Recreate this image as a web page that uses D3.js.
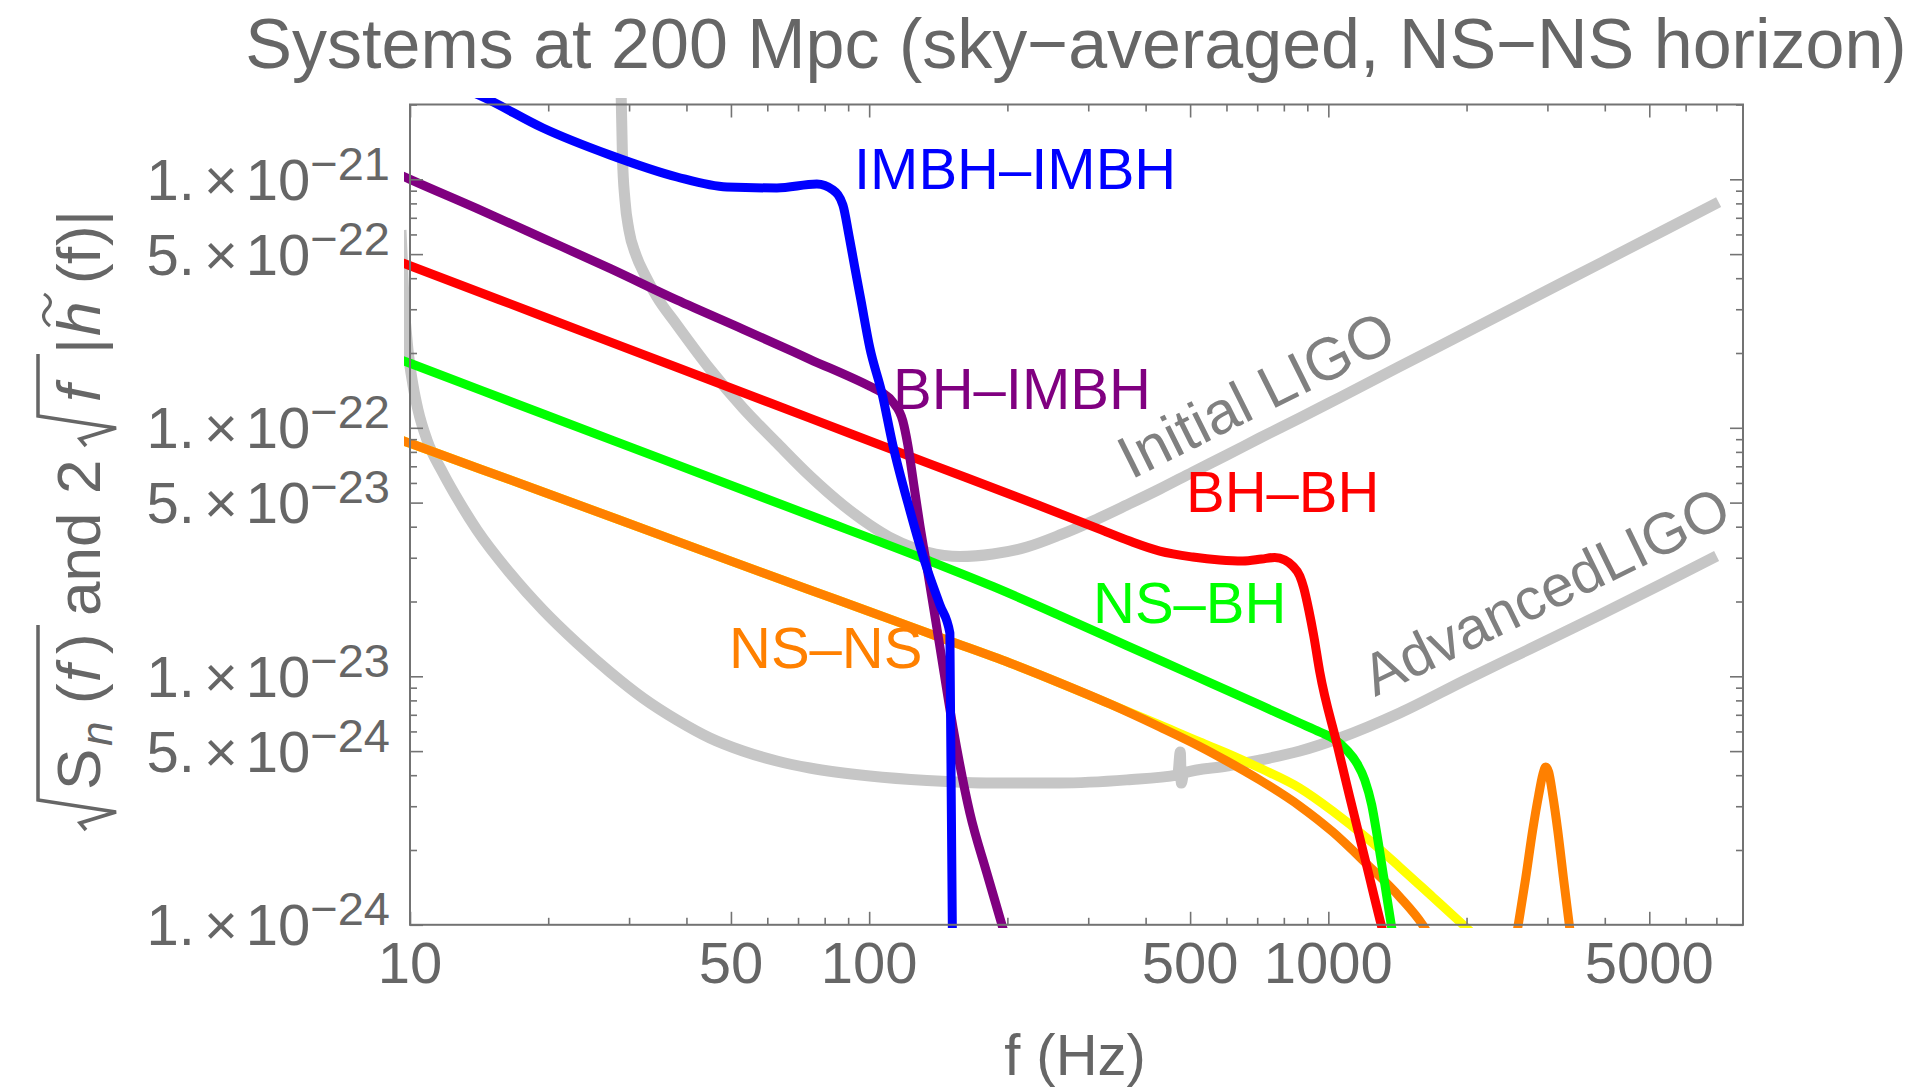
<!DOCTYPE html>
<html>
<head>
<meta charset="utf-8">
<script src="https://cdn.jsdelivr.net/npm/d3@7"></script>
<style>
  html, body { margin: 0; padding: 0; background: #ffffff; }
  svg { display: block; }
  text { font-family: "Liberation Sans", Arial, Helvetica, sans-serif; }
</style>
</head>
<body>
<svg id="chart" width="1915" height="1087"></svg>
<script>
// ---------- data: [frequency (Hz), amplitude] ----------
const initialLIGO = [
  [28.73, 2.51e-21], [28.84, 2.125e-21], [29.02, 1.229e-21], [29.39, 8.25e-22], [29.98, 6.25e-22],
  [31.05, 4.96e-22], [32.48, 4.12e-22], [34.50, 3.36e-22], [38.14, 2.593e-22], [45.0, 1.724e-22],
  [53.1, 1.2015e-22], [62.95, 8.69e-23], [74.3, 6.396e-23], [87.65, 4.890e-23], [100.35, 4.063e-23],
  [112.6, 3.569e-23], [133.6, 3.164e-23], [157.6, 3.034e-23], [185.9, 3.106e-23], [220.5, 3.314e-23],
  [260.2, 3.704e-23], [306.9, 4.217e-23], [364.0, 4.890e-23], [429.5, 5.671e-23], [506.8, 6.637e-23],
  [601.0, 7.772e-23], [709.0, 9.099e-23], [866.6, 1.095e-22], [1058.8, 1.324e-22], [1687.6, 2.065e-22],
  [3303.6, 3.915e-22], [5454, 6.31e-22], [7079, 8.10e-22]
];

const advancedLIGO = [
  [9.559, 6.25e-22], [9.704, 3.27e-22], [9.900, 2.056e-22], [10.15, 1.487e-22], [10.41, 1.179e-22],
  [10.89, 8.93e-23], [11.80, 6.58e-23], [12.85, 4.98e-23], [13.99, 3.88e-23], [16.51, 2.604e-23],
  [19.48, 1.848e-23], [23.10, 1.361e-23], [27.25, 1.041e-23], [32.16, 8.18e-24], [38.14, 6.67e-24],
  [45.00, 5.646e-24], [53.10, 5.004e-24], [62.95, 4.561e-24], [74.28, 4.275e-24], [100.35, 3.970e-24],
  [133.6, 3.808e-24], [185.9, 3.72e-24], [260.2, 3.72e-24], [364.0, 3.83e-24], [469.9, 4.01e-24],
  [476.0, 4.96e-24], [478.4, 3.72e-24], [484.4, 4.08e-24], [601.0, 4.355e-24], [709.0, 4.603e-24],
  [866.6, 5.004e-24], [1058.8, 5.646e-24], [1430.4, 7.115e-24], [1991, 9.663e-24], [2745, 1.288e-23],
  [3898, 1.764e-23], [5267, 2.331e-23], [7008, 3.049e-23]
];

const imbhImbh = [
  [13.04, 2.331e-21], [14.57, 2.125e-21], [19.48, 1.608e-21], [27.25, 1.2525e-21], [38.14, 1.0216e-21],
  [49.0, 9.31e-22], [62.95, 9.23e-22], [76.93, 9.57e-22], [83.36, 9.06e-22], [87.65, 7.88e-22],
  [90.33, 5.97e-22], [93.09, 4.40e-22], [95.93, 3.27e-22], [100.35, 2.095e-22], [106.6, 1.380e-22],
  [112.6, 8.53e-23], [122.6, 4.67e-23], [132.2, 2.884e-23], [142.6, 1.936e-23], [149.9, 1.494e-23],
  [152.2, 4.98e-25]
];

const bhImbh = [
  [9.511, 1.0426e-21], [10, 1e-21], [13.97, 7.64e-22], [19.51, 5.79e-22], [27.25, 4.38e-22],
  [38.08, 3.27e-22], [53.18, 2.490e-22], [74.28, 1.887e-22], [100.35, 1.469e-22], [106.6, 1.387e-22],
  [112.6, 1.270e-22], [118.4, 1.065e-22], [121.4, 8.53e-23], [125.1, 5.89e-23], [128.95, 4.06e-23],
  [133.6, 2.753e-23], [142.6, 1.312e-23], [152.2, 6.25e-24], [165.7, 2.818e-24], [180.4, 1.616e-24],
  [195.5, 9.71e-25], [204.5, 7.22e-25]
];

const bhBh = [
  [9.511, 4.65e-22], [10, 4.49e-22], [19.51, 2.805e-22], [38.08, 1.752e-22], [74.28, 1.094e-22],
  [134.2, 7.21e-23], [233.0, 4.89e-23], [316.3, 3.92e-23], [369.5, 3.50e-23], [429.5, 3.19e-23],
  [506.8, 3.02e-23], [580.2, 2.938e-23], [651.1, 2.911e-23], [716.1, 2.965e-23], [764.3, 3.007e-23],
  [803.6, 2.938e-23], [836.5, 2.779e-23], [866.6, 2.533e-23], [884.2, 2.266e-23], [906.6, 1.848e-23],
  [929.6, 1.453e-23], [958.0, 1.040e-23], [1043.0, 5.39e-24], [1113.2, 3.27e-24], [1212.6, 1.724e-24],
  [1307.1, 9.80e-25], [1374.3, 6.92e-25]
];

const nsBh = [
  [9.511, 1.883e-22], [10, 1.818e-22], [19.51, 1.136e-22], [38.08, 7.11e-23], [74.28, 4.445e-23],
  [133.6, 2.938e-23], [185.9, 2.299e-23], [260.2, 1.756e-23], [364.0, 1.330e-23], [506.8, 1.012e-23],
  [709.0, 7.667e-24], [866.6, 6.487e-24], [958.0, 5.971e-24], [1032.6, 5.568e-24], [1096.6, 5.05e-24],
  [1153.0, 4.48e-24], [1200.2, 3.83e-24], [1243.1, 3.035e-24], [1274.6, 2.342e-24], [1320.1, 1.557e-24],
  [1374.3, 9.71e-25], [1409.2, 7.22e-25]
];

const nsNs = [
  [9.511, 8.96e-23], [10, 8.66e-23], [19.51, 5.52e-23], [38.08, 3.50e-23], [74.28, 2.225e-23],
  [100.35, 1.820e-23], [147.7, 1.400e-23], [202.5, 1.131e-23], [260.2, 9.398e-24], [334.2, 7.738e-24],
  [429.5, 6.25e-24], [524.8, 5.220e-24], [601.0, 4.561e-24], [709.0, 3.826e-24], [866.6, 3.006e-24],
  [1022.3, 2.364e-24], [1212.6, 1.756e-24], [1430.4, 1.294e-24], [1605.2, 9.98e-25], [1704.5, 8.29e-25]
];

const nsNsAlt = [
  [9.511, 8.96e-23], [10, 8.66e-23], [19.51, 5.52e-23], [38.08, 3.50e-23], [74.28, 2.225e-23],
  [100.35, 1.820e-23], [147.7, 1.400e-23], [202.5, 1.131e-23], [260.2, 9.398e-24], [334.2, 7.738e-24],
  [429.5, 6.368e-24], [524.8, 5.440e-24], [601.0, 4.912e-24], [709.0, 4.275e-24], [866.6, 3.551e-24],
  [1022.3, 2.870e-24], [1212.6, 2.236e-24], [1430.4, 1.708e-24], [1687.6, 1.294e-24], [2001, 9.71e-25],
  [2136, 8.69e-25]
];

const nsNsPeak = [
  [2458.6, 5.46e-25], [2585.0, 9.71e-25], [2690.7, 1.543e-24], [2786.8, 2.406e-24], [2871.9, 3.33e-24],
  [2930.0, 4.01e-24], [2974.4, 4.32e-24], [3019.4, 4.12e-24], [3080.6, 3.33e-24], [3158.8, 2.406e-24],
  [3255.2, 1.515e-24], [3354.6, 9.71e-25], [3457.0, 6.28e-25]
];

// ---------- ticks ----------
const xMajorTicks = [10, 50, 100, 500, 1000, 5000];
const xMinorTicks = [20, 30, 40, 60, 70, 80, 90, 200, 300, 400, 600, 700, 800, 900,
                     2000, 3000, 4000, 6000, 7000];
const yMajorTicks = [1e-24, 5e-24, 1e-23, 5e-23, 1e-22, 5e-22, 1e-21];
const yMinorTicks = [2e-24, 3e-24, 4e-24, 6e-24, 7e-24, 8e-24, 9e-24,
                     2e-23, 3e-23, 4e-23, 6e-23, 7e-23, 8e-23, 9e-23,
                     2e-22, 3e-22, 4e-22, 6e-22, 7e-22, 8e-22, 9e-22, 2e-21];
const yTickMantissas = ["1.", "5.", "1.", "5.", "1.", "5.", "1."];
const yTickExponents = ["\u221224", "\u221224", "\u221223", "\u221223", "\u221222", "\u221222", "\u221221"];

const titleText = "Systems at 200 Mpc (sky\u2212averaged, NS\u2212NS horizon)";
const xTitleText = "f (Hz)";

// ---------- layout ----------
const plot = { left: 410, right: 1743, top: 104.5, bottom: 924.8 };
const grey = "#666666";
const frameGrey = "#737373";

const svg = d3.select("#chart");

const x = d3.scaleLog().domain([10, 8000]).range([plot.left, plot.right]);
const y = d3.scaleLog().domain([1e-24, 2e-21]).range([plot.bottom, plot.top]);

svg.append("rect").attr("width", 1915).attr("height", 1087).attr("fill", "#ffffff");

svg.append("defs").append("clipPath").attr("id", "plotClip")
  .append("rect").attr("x", 404).attr("y", 98).attr("width", 1345).attr("height", 830);

// ---------- curves ----------
const line = d3.line()
  .x(d => x(d[0]))
  .y(d => y(d[1]))
  .curve(d3.curveMonotoneX);

const curves = [
  { data: initialLIGO,  color: "#c6c6c6", width: 11 },
  { data: advancedLIGO, color: "#c6c6c6", width: 11 },
  { data: nsNsAlt,      color: "#ffff00", width: 9 },
  { data: nsNs,         color: "#ff8000", width: 9 },
  { data: nsNsPeak,     color: "#ff8000", width: 9 },
  { data: nsBh,         color: "#00ff00", width: 9 },
  { data: bhBh,         color: "#ff0000", width: 9 },
  { data: bhImbh,       color: "#800080", width: 9 },
  { data: imbhImbh,     color: "#0000ff", width: 9 }
];

const curveLayer = svg.append("g").attr("clip-path", "url(#plotClip)");
curveLayer.selectAll("path")
  .data(curves)
  .join("path")
  .attr("d", d => line(d.data))
  .attr("fill", "none")
  .attr("stroke", d => d.color)
  .attr("stroke-width", d => d.width)
  .attr("stroke-linejoin", "round")
  .attr("stroke-linecap", "butt");

// ---------- frame and ticks ----------
function styleAxis(g) {
  g.select(".domain").remove();
  g.selectAll(".tick line").attr("stroke", frameGrey).attr("stroke-width", 1.6);
  g.selectAll(".tick text").remove();
}

const axes = svg.append("g");
[[xMajorTicks, 13], [xMinorTicks, 7]].forEach(([vals, len]) => {
  axes.append("g").attr("transform", `translate(0,${plot.bottom})`)
    .call(d3.axisBottom(x).tickValues(vals).tickSize(-len).tickSizeOuter(0).tickFormat(""))
    .call(styleAxis);
  axes.append("g").attr("transform", `translate(0,${plot.top})`)
    .call(d3.axisTop(x).tickValues(vals).tickSize(-len).tickSizeOuter(0).tickFormat(""))
    .call(styleAxis);
});
[[yMajorTicks, 13], [yMinorTicks, 7]].forEach(([vals, len]) => {
  axes.append("g").attr("transform", `translate(${plot.left},0)`)
    .call(d3.axisLeft(y).tickValues(vals).tickSize(-len).tickSizeOuter(0).tickFormat(""))
    .call(styleAxis);
  axes.append("g").attr("transform", `translate(${plot.right},0)`)
    .call(d3.axisRight(y).tickValues(vals).tickSize(-len).tickSizeOuter(0).tickFormat(""))
    .call(styleAxis);
});

svg.append("rect")
  .attr("x", plot.left).attr("y", plot.top)
  .attr("width", plot.right - plot.left).attr("height", plot.bottom - plot.top)
  .attr("fill", "none").attr("stroke", frameGrey).attr("stroke-width", 2);

// ---------- tick labels ----------
svg.append("g").selectAll("text")
  .data(xMajorTicks)
  .join("text")
  .attr("x", d => x(d))
  .attr("y", 983)
  .attr("text-anchor", "middle")
  .attr("fill", grey)
  .style("font-size", "58px")
  .text(d => String(d));

const yLabels = svg.append("g").selectAll("text")
  .data(yMajorTicks)
  .join("text")
  .attr("x", 390)
  .attr("y", d => y(d) + 20.5)
  .attr("text-anchor", "end")
  .attr("fill", grey)
  .style("font-size", "58px");
yLabels.append("tspan").text((d, i) => yTickMantissas[i]);
yLabels.append("tspan").attr("dx", 9).text("\u00d7");
yLabels.append("tspan").attr("dx", 8).text("10");
yLabels.append("tspan").attr("dy", -20).style("font-size", "47px").text((d, i) => yTickExponents[i]);

// ---------- titles ----------
svg.append("text")
  .attr("x", 1076).attr("y", 68)
  .attr("text-anchor", "middle")
  .attr("fill", grey)
  .style("font-size", "70px")
  .text(titleText);

svg.append("text")
  .attr("x", 1075).attr("y", 1075)
  .attr("text-anchor", "middle")
  .attr("fill", grey)
  .style("font-size", "58px")
  .text(xTitleText);

// y-axis title: sqrt(S_n(f)) and 2 sqrt(f) |h~(f)|, written bottom-to-top
const yTitle = svg.append("g")
  .attr("transform", "translate(100,830) rotate(-90)")
  .attr("fill", grey)
  .style("font-size", "62px");

const radical = (u0, u1) =>
  `M${u0},-14 L${u0 + 7},-20 L${u0 + 18},16 L${u0 + 30},-62 L${u1},-62`;

yTitle.append("path").attr("d", radical(0, 205))
  .attr("fill", "none").attr("stroke", grey).attr("stroke-width", 3.5).attr("stroke-linejoin", "miter");
yTitle.append("path").attr("d", radical(384, 476))
  .attr("fill", "none").attr("stroke", grey).attr("stroke-width", 3.5).attr("stroke-linejoin", "miter");

const yTitleParts = [
  { u: 40,  t: "S" },
  { u: 84,  t: "n", italic: true, size: 44, v: 12 },
  { u: 126, t: "(" },
  { u: 148, t: "f", italic: true },
  { u: 176, t: ")" },
  { u: 214, t: "and" },
  { u: 336, t: "2" },
  { u: 428, t: "f", italic: true },
  { u: 476, t: "|" },
  { u: 494, t: "h", italic: true },
  { u: 546, t: "(" },
  { u: 566, t: "f" },
  { u: 584, t: ")" },
  { u: 604, t: "|" }
];
yTitle.selectAll("text")
  .data(yTitleParts)
  .join("text")
  .attr("x", d => d.u)
  .attr("y", d => d.v || 0)
  .style("font-style", d => d.italic ? "italic" : "normal")
  .style("font-size", d => d.size ? d.size + "px" : null)
  .text(d => d.t);
// tilde over h
yTitle.append("path")
  .attr("d", "M504,-50 C510,-58 516,-58 521,-53 C526,-48 531,-48 536,-56")
  .attr("fill", "none").attr("stroke", grey).attr("stroke-width", 3.2);

// ---------- curve labels ----------
const curveLabels = [
  { text: "IMBH\u2013IMBH", color: "#0000ff", x: 854, y: 189 },
  { text: "BH\u2013IMBH",   color: "#800080", x: 893, y: 409 },
  { text: "BH\u2013BH",     color: "#ff0000", x: 1186, y: 512 },
  { text: "NS\u2013BH",     color: "#00ff00", x: 1093, y: 623 },
  { text: "NS\u2013NS",     color: "#ff8000", x: 729, y: 668 }
];
svg.append("g").selectAll("text")
  .data(curveLabels)
  .join("text")
  .attr("x", d => d.x).attr("y", d => d.y)
  .attr("fill", d => d.color)
  .style("font-size", "58px")
  .text(d => d.text);

const detectorLabels = [
  { text: "Initial LIGO", x: 1131, y: 480, angle: -26.5, size: 60 },
  { text: "AdvancedLIGO", x: 1375, y: 697, angle: -26, size: 58.5 }
];
svg.append("g").selectAll("text")
  .data(detectorLabels)
  .join("text")
  .attr("transform", d => `translate(${d.x},${d.y}) rotate(${d.angle})`)
  .attr("fill", "#808080")
  .style("font-size", d => d.size + "px")
  .text(d => d.text);
</script>
</body>
</html>
